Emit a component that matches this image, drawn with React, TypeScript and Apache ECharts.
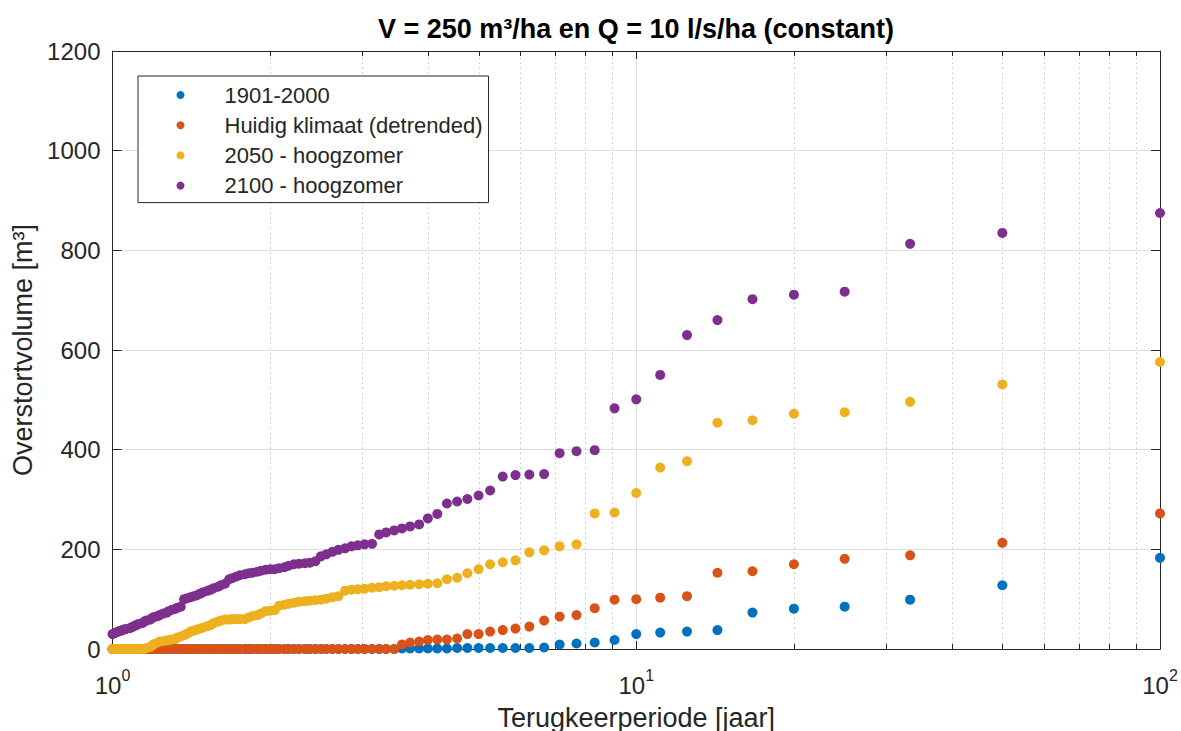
import React, { useEffect, useRef } from "react";
import * as echarts from "echarts";

// Return periods (jaar) for ranks 1..100 of a 100-year record
const returnPeriods = [
  100, 50, 33.33, 25, 20, 16.67, 14.29, 12.5, 11.11, 10,
  9.09, 8.33, 7.69, 7.14, 6.67, 6.25, 5.88, 5.56, 5.26, 5,
  4.76, 4.55, 4.35, 4.17, 4, 3.85, 3.7, 3.57, 3.45, 3.33,
  3.23, 3.13, 3.03, 2.94, 2.86, 2.78, 2.7, 2.63, 2.56, 2.5,
  2.44, 2.38, 2.33, 2.27, 2.22, 2.17, 2.13, 2.08, 2.04, 2,
  1.96, 1.92, 1.89, 1.85, 1.82, 1.79, 1.75, 1.72, 1.69, 1.67,
  1.64, 1.61, 1.59, 1.56, 1.54, 1.52, 1.49, 1.47, 1.45, 1.43,
  1.41, 1.39, 1.37, 1.35, 1.33, 1.32, 1.3, 1.28, 1.27, 1.25,
  1.23, 1.22, 1.2, 1.19, 1.18, 1.16, 1.15, 1.14, 1.12, 1.11,
  1.1, 1.09, 1.08, 1.06, 1.05, 1.04, 1.03, 1.02, 1.01, 1,
];

const vol1901 = [
  183, 128, 99, 85, 81, 73, 38, 35, 33, 30,
  18, 13, 11, 9, 3, 2, 2, 2, 2, 2,
  2, 2, 1, 1, 1, 1, 1, 1, 0, 0,
  0, 0, 0, 0, 0, 0, 0, 0, 0, 0,
  0, 0, 0, 0, 0, 0, 0, 0, 0, 0,
  0, 0, 0, 0, 0, 0, 0, 0, 0, 0,
  0, 0, 0, 0, 0, 0, 0, 0, 0, 0,
  0, 0, 0, 0, 0, 0, 0, 0, 0, 0,
  0, 0, 0, 0, 0, 0, 0, 0, 0, 0,
  0, 0, 0, 0, 0, 0, 0, 0, 0, 0,
];

const volHuidig = [
  272, 213, 188, 181, 170, 156, 153, 106, 103, 100,
  99, 82, 68, 65, 57, 45, 41, 38, 35, 30,
  30, 21, 19, 19, 18, 15, 13, 9, 0, 0,
  0, 0, 0, 0, 0, 0, 0, 0, 0, 0,
  0, 0, 0, 0, 0, 0, 0, 0, 0, 0,
  0, 0, 0, 0, 0, 0, 0, 0, 0, 0,
  0, 0, 0, 0, 0, 0, 0, 0, 0, 0,
  0, 0, 0, 0, 0, 0, 0, 0, 0, 0,
  0, 0, 0, 0, 0, 0, 0, 0, 0, 0,
  0, 0, 0, 0, 0, 0, 0, 0, 0, 0,
];

const vol2050 = [
  576, 531, 496, 475, 472, 459, 454, 377, 364, 313,
  274, 272, 210, 206, 198, 194, 178, 174, 170, 160,
  152, 143, 140, 132, 131, 130, 129, 128, 127, 126,
  124, 123, 121, 120, 119, 117, 106, 104, 101, 99,
  98, 97, 96, 95, 93, 91, 89, 87, 78, 77,
  76, 71, 68, 66, 63, 60, 60, 60, 60, 59,
  59, 57, 55, 52, 48, 46, 43, 41, 39, 37,
  35, 31, 28, 25, 23, 20, 19, 18, 17, 16,
  15, 13, 10, 7, 4, 2, 0, 0, 0, 0,
  0, 0, 0, 0, 0, 0, 0, 0, 0, 0,
];

const vol2100 = [
  875, 835, 813, 717, 711, 702, 660, 630, 550, 501,
  483, 399, 397, 393, 351, 350, 349, 346, 318, 308,
  301, 296, 292, 271, 262, 250, 246, 242, 238, 234,
  230, 211, 210, 208, 206, 202, 199, 195, 190, 186,
  176, 173, 172, 171, 170, 167, 164, 162, 160, 160,
  159, 157, 155, 153, 152, 150, 148, 145, 142, 140,
  131, 128, 125, 122, 119, 117, 114, 111, 108, 106,
  104, 102, 100, 85, 83, 81, 79, 76, 73, 71,
  68, 66, 64, 62, 59, 57, 55, 52, 50, 48,
  46, 44, 42, 40, 39, 37, 36, 34, 32, 30,
];

const seriesNames = [
  "1901-2000",
  "Huidig klimaat (detrended)",
  "2050 - hoogzomer",
  "2100 - hoogzomer",
];
const seriesColors = ["#0072BD", "#D95319", "#EDB120", "#7E2F8E"];
const seriesValues = [vol1901, volHuidig, vol2050, vol2100];

const minorXTicks = [2, 3, 4, 5, 6, 7, 8, 9, 20, 30, 40, 50, 60, 70, 80, 90];
const yMin = 0;
const yMax = 1200;
const yStep = 200;

const FONT = "'Liberation Sans', Arial, Helvetica, sans-serif";
const AX = "#262626";
const GRID = "#dedede";

function buildOption() {
  const scatterSeries = seriesNames.map((name, i) => ({
    name,
    type: "scatter",
    symbol: "circle",
    symbolSize: 10,
    clip: false,
    z: 3,
    itemStyle: { color: seriesColors[i], opacity: 1 },
    data: returnPeriods.map((t, k) => [t, seriesValues[i][k]]),
  }));

  return {
    animation: false,
    backgroundColor: "#ffffff",
    textStyle: { fontFamily: FONT },
    title: {
      text: "V = 250 m³/ha en Q = 10 l/s/ha (constant)",
      left: 636,
      top: 15,
      textAlign: "center",
      padding: 0,
      textStyle: { fontFamily: FONT, fontSize: 27, fontWeight: "bold", color: "#000" },
    },
    grid: {
      left: 112.5,
      right: 21,
      top: 51,
      bottom: 82,
      containLabel: false,
      outerBoundsMode: "none",
    },
    legend: {
      orient: "vertical",
      left: 138,
      top: 76,
      padding: [8, 6, 6, 38.5],
      itemGap: 8.2,
      itemWidth: 8,
      itemHeight: 8,
      icon: "circle",
      borderColor: AX,
      borderWidth: 1,
      borderRadius: 0,
      backgroundColor: "#ffffff",
      selectedMode: false,
      textStyle: { fontFamily: FONT, fontSize: 22, lineHeight: 22, color: AX, padding: [0, 0, 0, 35] },
      data: seriesNames,
    },
    xAxis: [
      {
        type: "log",
        logBase: 10,
        min: 1,
        max: 100,
        position: "bottom",
        axisLine: { show: true, onZero: false, lineStyle: { color: AX, width: 1 } },
        axisTick: { show: true, inside: true, length: 8, lineStyle: { color: AX } },
        splitLine: { show: true, lineStyle: { color: GRID, width: 1 } },
        minorTick: { show: false },
        axisLabel: {
          margin: 18,
          formatter: (v: number) => `{b|10}{s|${Math.round(Math.log10(v))}}`,
          rich: {
            b: { fontFamily: FONT, fontSize: 24, color: AX, verticalAlign: "bottom", lineHeight: 30 },
            s: { fontFamily: FONT, fontSize: 16, color: AX, verticalAlign: "top", lineHeight: 16 },
          },
        },
        name: "Terugkeerperiode [jaar]",
        nameLocation: "middle",
        nameGap: 55,
        nameTextStyle: { fontFamily: FONT, fontSize: 27, color: AX },
      },
      {
        type: "log",
        logBase: 10,
        min: 1,
        max: 100,
        position: "top",
        axisLine: { show: true, onZero: false, lineStyle: { color: AX, width: 1 } },
        axisTick: { show: true, inside: true, length: 8, lineStyle: { color: AX } },
        axisLabel: { show: false },
        splitLine: { show: false },
      },
    ],
    yAxis: [
      {
        type: "value",
        min: yMin,
        max: yMax,
        interval: yStep,
        position: "left",
        axisLine: { show: true, onZero: false, lineStyle: { color: AX, width: 1 } },
        axisTick: { show: true, inside: true, length: 9, lineStyle: { color: AX } },
        splitLine: { show: true, lineStyle: { color: GRID, width: 1 } },
        axisLabel: {
          margin: 12,
          fontFamily: FONT,
          fontSize: 24,
          color: AX,
          formatter: (v: number) => String(v),
        },
        name: "Overstortvolume [m³]",
        nameLocation: "middle",
        nameGap: 75,
        nameTextStyle: { fontFamily: FONT, fontSize: 27, color: AX },
      },
      {
        type: "value",
        min: yMin,
        max: yMax,
        interval: yStep,
        position: "right",
        axisLine: { show: true, onZero: false, lineStyle: { color: AX, width: 1 } },
        axisTick: { show: true, inside: true, length: 9, lineStyle: { color: AX } },
        splitLine: { show: false },
        axisLabel: { show: false },
      },
    ],
    series: [
      {
        type: "custom",
        name: "minorGrid",
        silent: true,
        z: 1,
        xAxisIndex: 0,
        yAxisIndex: 0,
        clip: false,
        encode: { x: 0, y: 1 },
        data: minorXTicks.map((v) => [v, yMin]),
        renderItem: (_params: any, api: any) => {
          const x = api.value(0);
          const bot = api.coord([x, yMin]);
          const top = api.coord([x, yMax]);
          const px = Math.round(bot[0]) + 0.5;
          return {
            type: "group",
            children: [
              {
                type: "line",
                shape: { x1: px, y1: bot[1], x2: px, y2: top[1] },
                style: { stroke: "#c4c4c4", lineWidth: 1, lineDash: [1.5, 3.5] },
              },
              {
                type: "line",
                shape: { x1: px, y1: bot[1], x2: px, y2: bot[1] - 5 },
                style: { stroke: AX, lineWidth: 1 },
              },
              {
                type: "line",
                shape: { x1: px, y1: top[1], x2: px, y2: top[1] + 5 },
                style: { stroke: AX, lineWidth: 1 },
              },
            ],
          };
        },
      },
      ...scatterSeries,
    ],
  };
}

export default function App() {
  const ref = useRef<HTMLDivElement>(null);
  useEffect(() => {
    if (!ref.current) return;
    const chart = echarts.init(ref.current, null, { renderer: "svg" });
    chart.setOption(buildOption() as any);
    return () => chart.dispose();
  }, []);
  return (
    <div
      ref={ref}
      style={{ position: "absolute", left: 0, top: 0, width: 1181, height: 731, background: "#fff" }}
    />
  );
}
